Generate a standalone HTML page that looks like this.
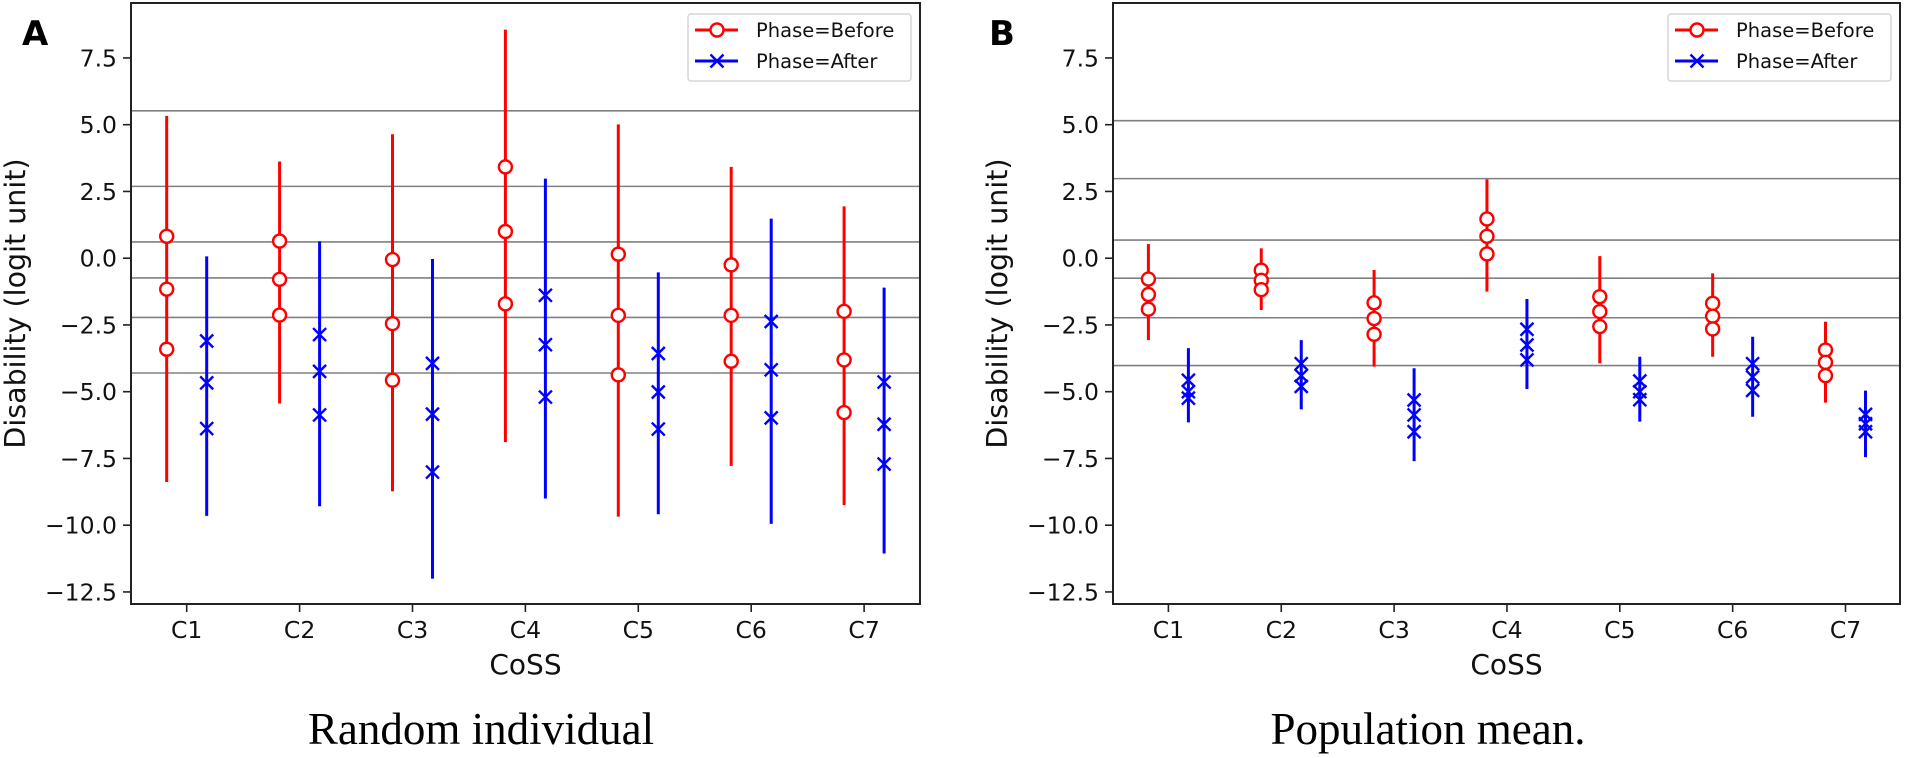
<!DOCTYPE html>
<html><head><meta charset="utf-8"><style>
html,body{margin:0;padding:0;background:#fff;}
svg{display:block;font-family:"DejaVu Sans","Liberation Sans",sans-serif;}
</style></head><body>
<svg id="fig" width="1905" height="758" viewBox="0 0 1905 758"></svg>
<script>
const categories = ["C1","C2","C3","C4","C5","C6","C7"];
const yTicks = [7.5,5.0,2.5,0.0,-2.5,-5.0,-7.5,-10.0,-12.5];
const yTickLabels = ["7.5","5.0","2.5","0.0","\u22122.5","\u22125.0","\u22127.5","\u221210.0","\u221212.5"];
// Panel A (Random individual)
const aBeforeHi = [5.33,3.62,4.64,8.56,5.01,3.42,1.94];
const aBeforeP1 = [0.82,0.64,-0.05,3.42,0.15,-0.25,-1.99];
const aBeforeP2 = [-1.16,-0.79,-2.45,1.0,-2.14,-2.14,-3.81];
const aBeforeP3 = [-3.41,-2.13,-4.57,-1.71,-4.37,-3.86,-5.78];
const aBeforeLo = [-8.38,-5.44,-8.73,-6.89,-9.68,-7.78,-9.25];
const aAfterHi = [0.07,0.63,-0.03,2.98,-0.53,1.48,-1.10];
const aAfterP1 = [-3.10,-2.86,-3.94,-1.39,-3.57,-2.37,-4.64];
const aAfterP2 = [-4.67,-4.24,-5.84,-3.24,-5.01,-4.18,-6.22];
const aAfterP3 = [-6.38,-5.87,-8.01,-5.20,-6.40,-5.98,-7.71];
const aAfterLo = [-9.65,-9.29,-12.0,-9.0,-9.59,-9.95,-11.06];
const aHLines = [5.52,2.69,0.61,-0.74,-2.22,-4.30];
// Panel B (Population mean)
const bBeforeHi = [0.53,0.37,-0.44,2.95,0.08,-0.57,-2.38];
const bBeforeP1 = [-0.78,-0.45,-1.67,1.47,-1.44,-1.69,-3.44];
const bBeforeP2 = [-1.36,-0.83,-2.26,0.82,-2.0,-2.17,-3.9];
const bBeforeP3 = [-1.91,-1.18,-2.85,0.16,-2.56,-2.65,-4.4];
const bBeforeLo = [-3.07,-1.94,-4.06,-1.25,-3.94,-3.69,-5.41];
const bAfterHi = [-3.37,-3.07,-4.12,-1.53,-3.69,-2.94,-4.96];
const bAfterP1 = [-4.57,-3.95,-5.31,-2.66,-4.6,-3.95,-5.85];
const bAfterP2 = [-5.0,-4.4,-5.87,-3.25,-5.0,-4.45,-6.2];
const bAfterP3 = [-5.24,-4.8,-6.5,-3.81,-5.3,-4.95,-6.5];
const bAfterLo = [-6.15,-5.66,-7.6,-4.9,-6.12,-5.94,-7.45];
const bHLines = [5.15,2.98,0.68,-0.75,-2.23,-4.02];

const NS="http://www.w3.org/2000/svg";
const svg=document.getElementById('fig');
function mk(tag,attrs,parent){const e=document.createElementNS(NS,tag);for(const k in attrs)e.setAttribute(k,attrs[k]);(parent||svg).appendChild(e);return e;}

const Y0=258.2, YS=26.7, TOP=3, BOT=604;
function yS(v){return Y0 - v*YS;}

function panel(cfg){
  const g=mk('g',{});
  
  
  const xS=i=>cfg.c1 + i*cfg.step;
  const off=20;
  cfg.hl.forEach(v=>{
    const l=mk('line',{x1:cfg.left,x2:cfg.right,y1:yS(v),y2:yS(v),stroke:'#808080','stroke-width':1.6},g);
    
    
  });
  categories.forEach((c,i)=>{
    const x=xS(i)-off;
    const ln=mk('line',{x1:x,x2:x,y1:yS(cfg.bh[i]),y2:yS(cfg.bl[i]),stroke:'#ff0000','stroke-width':3},g);
    
    
    [cfg.b1,cfg.b2,cfg.b3].forEach(arr=>{
      const m=mk('circle',{cx:x,cy:yS(arr[i]),r:6.5,fill:'#fff',stroke:'#ff0000','stroke-width':2.4},g);
      
      
    });
  });
  categories.forEach((c,i)=>{
    const x=xS(i)+off;
    const ln=mk('line',{x1:x,x2:x,y1:yS(cfg.ah[i]),y2:yS(cfg.al[i]),stroke:'#0000ff','stroke-width':3},g);
    
    
    [cfg.a1,cfg.a2,cfg.a3].forEach(arr=>{
      const y=yS(arr[i]), s=6.5;
      const m=mk('path',{d:`M${x-s},${y-s}L${x+s},${y+s}M${x-s},${y+s}L${x+s},${y-s}`,stroke:'#0000ff','stroke-width':2.4,fill:'none'},g);
      
      
    });
  });
  const fr=mk('rect',{x:cfg.left,y:TOP,width:cfg.right-cfg.left,height:BOT-TOP,fill:'none',stroke:'#222','stroke-width':2},g);
  
  
  yTicks.forEach((v,k)=>{
    mk('line',{x1:cfg.left-8,x2:cfg.left,y1:yS(v),y2:yS(v),stroke:'#222','stroke-width':1.6},g);
    const t=mk('text',{x:cfg.left-14,y:yS(v)+8.5,'text-anchor':'end','font-size':23.5,fill:'#111'},g);
    t.textContent=yTickLabels[k];
    
    
  });
  categories.forEach((c,i)=>{
    mk('line',{x1:xS(i),x2:xS(i),y1:BOT,y2:BOT+8,stroke:'#222','stroke-width':1.6},g);
    const t=mk('text',{x:xS(i),y:638,'text-anchor':'middle','font-size':23.5,fill:'#111'},g);
    t.textContent=c;
    
    
  });
  const xl=mk('text',{x:(cfg.left+cfg.right)/2,y:674,'text-anchor':'middle','font-size':28,fill:'#111'},g);
  xl.textContent='CoSS';
  
  
  const yl=mk('text',{x:0,y:0,'text-anchor':'middle','font-size':28.5,fill:'#111',transform:`translate(${cfg.ylx},${(TOP+BOT)/2}) rotate(-90)`},g);
  yl.textContent='Disability (logit unit)';
  
  
  const pl=mk('text',{x:cfg.letterX,y:45,'font-size':34,'font-weight':'bold',fill:'#000'},g);
  pl.textContent=cfg.letter;
  
  
  const ti=mk('text',{x:cfg.titleX,y:744,'text-anchor':'middle','font-size':45,fill:'#000','font-family':'"Liberation Serif",serif'},g);
  ti.textContent=cfg.title;
  
  
  const lx=cfg.right-9-223, ly=14;
  const lg=mk('g',{},g);
  
  
  mk('rect',{x:lx,y:ly,width:223,height:67,rx:3,fill:'#fff',stroke:'#d6d6d6','stroke-width':1.5},lg);
  mk('line',{x1:lx+7,x2:lx+50,y1:30,y2:30,stroke:'#ff0000','stroke-width':3},lg);
  mk('circle',{cx:lx+29,cy:30,r:6.5,fill:'#fff',stroke:'#ff0000','stroke-width':2.4},lg);
  mk('line',{x1:lx+7,x2:lx+50,y1:61,y2:61,stroke:'#0000ff','stroke-width':3},lg);
  mk('path',{d:`M${lx+22.5},54.5L${lx+35.5},67.5M${lx+22.5},67.5L${lx+35.5},54.5`,stroke:'#0000ff','stroke-width':2.4},lg);
  const t1=mk('text',{x:lx+68,y:37,'font-size':19.5,fill:'#111'},lg);
  t1.textContent='Phase=Before';
  
  
  const t2=mk('text',{x:lx+68,y:68,'font-size':19.5,fill:'#111'},lg);
  t2.textContent='Phase=After';
  
  
}
panel({name:'panel-a',left:131,right:920,c1:186.7,step:112.9,hl:aHLines,
  bh:aBeforeHi,b1:aBeforeP1,b2:aBeforeP2,b3:aBeforeP3,bl:aBeforeLo,
  ah:aAfterHi,a1:aAfterP1,a2:aAfterP2,a3:aAfterP3,al:aAfterLo,
  ylx:25,letter:'A',letterX:22,title:'Random individual',titleX:481});
panel({name:'panel-b',left:1113,right:1900,c1:1168.4,step:112.85,hl:bHLines,
  bh:bBeforeHi,b1:bBeforeP1,b2:bBeforeP2,b3:bBeforeP3,bl:bBeforeLo,
  ah:bAfterHi,a1:bAfterP1,a2:bAfterP2,a3:bAfterP3,al:bAfterLo,
  ylx:1007,letter:'B',letterX:989,title:'Population mean.',titleX:1428});
</script>
</body></html>
